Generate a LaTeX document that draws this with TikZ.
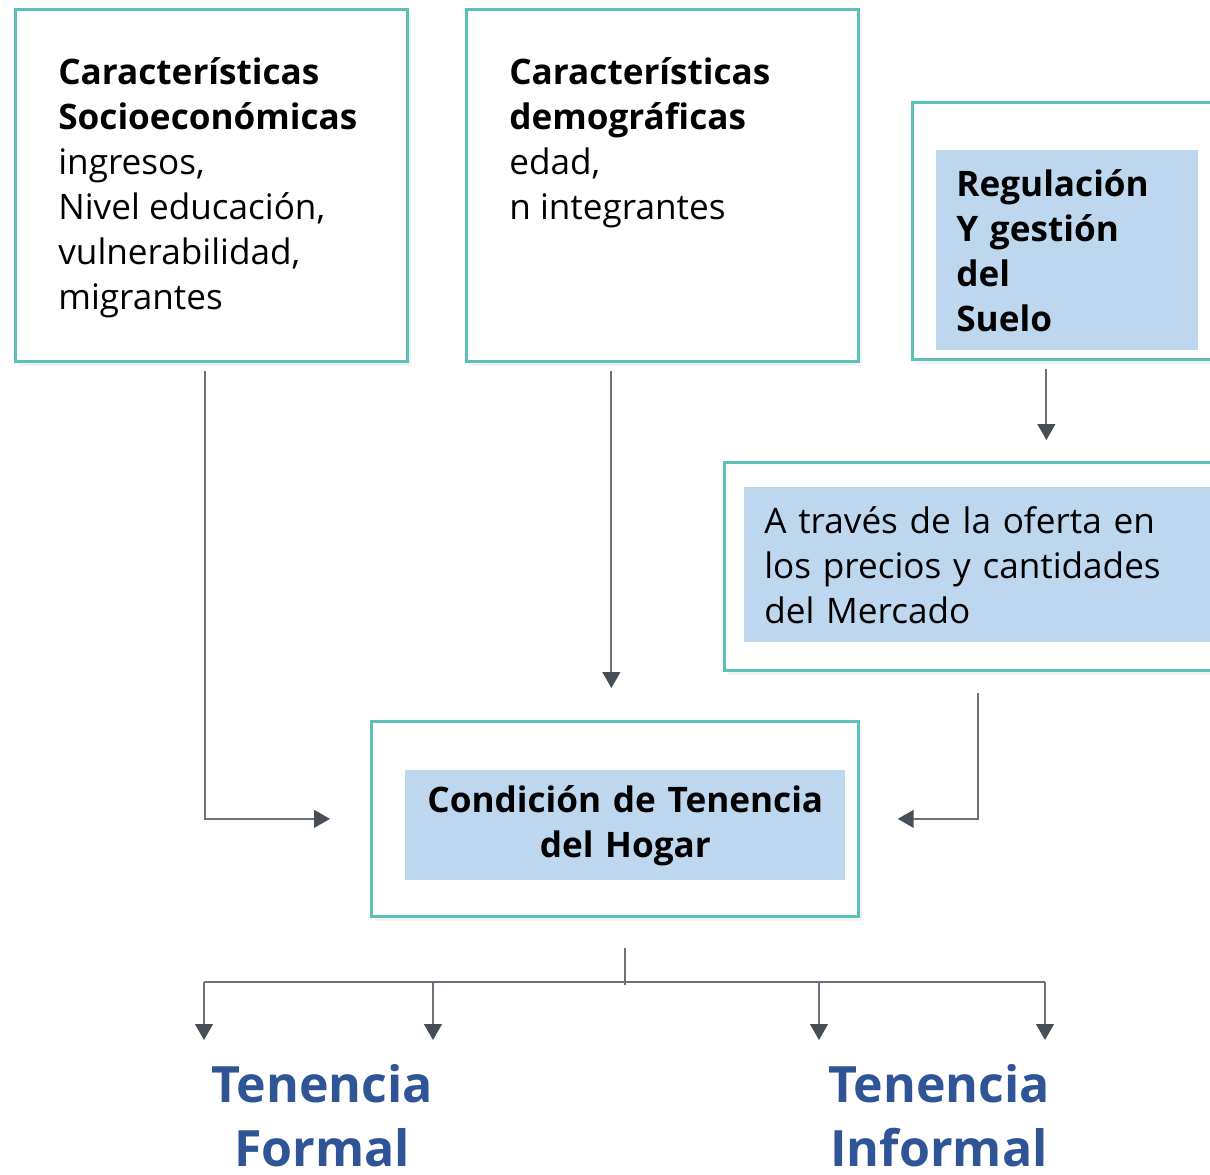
\documentclass[tikz,border=0pt]{standalone}
\usepackage{fontspec}
\setmainfont{Open Sans}
\usepackage{xcolor}
\usetikzlibrary{arrows.meta,positioning,calc,shadows}
\definecolor{tealb}{HTML}{5BBFBA}
\definecolor{lblue}{HTML}{BDD7EE}
\definecolor{lgray}{HTML}{6C7279}
\definecolor{tipgray}{HTML}{474E56}
\definecolor{tblue}{HTML}{2F5597}

\begin{document}
\begin{tikzpicture}[x=0.02cm, y=-0.02cm,
  card/.style={draw=tealb, line width=1.6pt, fill=white, anchor=north west, inner sep=0pt,
               drop shadow={opacity=0.10, shadow xshift=0.08cm, shadow yshift=-0.1cm}},
  fillbox/.style={fill=lblue, anchor=north west, inner xsep=0.4cm, inner ysep=0pt, align=left,
                  font=\fontsize{20}{25.6}\selectfont},
  txt/.style={anchor=north west, inner sep=0pt, align=left, font=\fontsize{20}{25.6}\selectfont},
  link/.style={line width=1.1pt, lgray},
  flow/.style={link, -{Triangle[width=10pt,length=9pt,color=tipgray]}},
  tenure/.style={anchor=north, inner sep=0pt, align=center, text=tblue,
                 font=\fontsize{28.5}{36.5}\selectfont\bfseries}
]
  \useasboundingbox (0,0) rectangle (1210,1175);
  \clip (0,0) rectangle (1210,1175);

  \node[card, minimum width=7.84cm, minimum height=7.04cm] (socio) at (14,8) {};
  \node[card, minimum width=7.84cm, minimum height=7.04cm] (demo) at (465,8) {};
  \node[card, minimum width=6.38cm, minimum height=5.14cm] (regul) at (911,101) {};
  \node[card, minimum width=10.14cm, minimum height=4.16cm] (mercado) at (723,461) {};
  \node[card, minimum width=9.74cm, minimum height=3.9cm] (hogar) at (370,720) {};

  \node[txt] (sociotxt) at (58,57) {\textbf{Características}\\\textbf{Socioeconómicas}\\ingresos,\\Nivel educación,\\vulnerabilidad,\\migrantes};
  \node[txt] (demotxt) at (509,57) {\textbf{Características}\\\textbf{demográficas}\\edad,\\n integrantes};
  \node[fillbox, text width=4.44cm, minimum height=4cm, font=\fontsize{20}{25.6}\selectfont\bfseries]
    (regultxt) at (936,150) {Regulación\\Y gestión\\del\\Suelo};
  \node[fillbox, text width=9.12cm, minimum height=3.1cm]
    (mercadotxt) at (744,487) {A través de la oferta en\\los precios y cantidades\\del Mercado};
  \node[fillbox, text width=8.8cm, inner xsep=0pt, minimum height=2.2cm, align=center,
        font=\fontsize{20}{25.6}\selectfont\bfseries] (hogartxt) at (405,770) {Condición de Tenencia\\del Hogar};

  \node[tenure] (formal) at (322,1064) {Tenencia\\Formal};
  \node[tenure] (informal) at (939,1064) {Tenencia\\Informal};

  \coordinate (socout) at ($(socio.south)+(-6,8)$);
  \coordinate (regout) at ($(regul.south)+(-25.5,8)$);

  \draw[flow, shorten >=0.8cm] (socout) |- (hogar.west);
  \draw[flow, shorten <=0.16cm, shorten >=0.64cm] ($(demo.south -| hogar.north)+(-3.5,0)$) -- ($(hogar.north)+(-3.5,0)$);
  \draw[flow, shorten >=0.42cm] (regout) -- (regout |- mercado.north);
  \draw[flow, shorten <=0.42cm, shorten >=0.76cm] (mercado.south) |- (hogar.east);

  \draw[link] ($(hogar.south)+(10.5,30)$) -- ++(0,37);
  \draw[link] ($(formal.north)+(-118,-82)$) -- ($(informal.north)+(106,-82)$);
  \foreach \nd/\dx in {formal/-118, formal/111, informal/-120, informal/106}
    \draw[flow] ($(\nd.north)+(\dx,-82)$) -- ($(\nd.north)+(\dx,-24)$);
\end{tikzpicture}
\end{document}
